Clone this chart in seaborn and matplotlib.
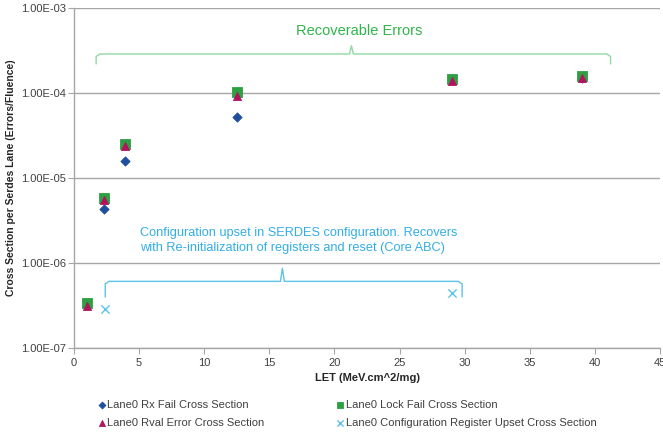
import numpy as np
import pandas as pd
import matplotlib
matplotlib.use("Agg")
import matplotlib.pyplot as plt
import seaborn as sns
from matplotlib.ticker import FixedLocator, FuncFormatter, NullLocator

# values
let_main = [1.0, 2.3, 3.9, 12.5, 29.0, 39.0]
rx_let = [2.3, 3.9, 12.5, 29.0, 39.0]
rx_fail = [4.3e-6, 1.6e-5, 5.2e-5, 1.45e-4, 1.5e-4]
lock_fail = [3.4e-7, 5.8e-6, 2.55e-5, 1.02e-4, 1.46e-4, 1.57e-4]
rval_err = [3.1e-7, 5.5e-6, 2.4e-5, 9.3e-5, 1.4e-4, 1.5e-4]
cfg_let = [2.4, 29.0]
cfg_upset = [2.9e-7, 4.4e-7]

y_ticks = [1e-7, 1e-6, 1e-5, 1e-4, 1e-3]
x_ticks = [0, 5, 10, 15, 20, 25, 30, 35, 40, 45]

sns.set_style("white")
plt.rcParams['font.family'] = ['Liberation Sans', 'DejaVu Sans']

fig = plt.figure(figsize=(6.63, 4.33), dpi=100)
ax = fig.add_axes([0.1116, 0.196, 0.884, 0.7855])

series = [
    ("Lane0 Rx Fail Cross Section", rx_let, rx_fail, "D", "#1f4e9e", 22),
    ("Lane0 Lock Fail Cross Section", let_main, lock_fail, "s", "#2ea043", 42),
    ("Lane0 Rval Error Cross Section", let_main, rval_err, "^", "#b3135e", 34),
]
for name, xs, ys, mk, col, sz in series:
    df = pd.DataFrame({"LET": xs, "CS": ys})
    sns.scatterplot(data=df, x="LET", y="CS", ax=ax, marker=mk, color=col,
                    s=sz, edgecolor=col, linewidth=0.6, label=name, zorder=3)

df_cfg = pd.DataFrame({"LET": cfg_let, "CS": cfg_upset})
sns.scatterplot(data=df_cfg, x="LET", y="CS", ax=ax, marker="x",
                color="#5ec3ea", s=36, linewidth=1.0,
                label="Lane0 Configuration Register Upset Cross Section", zorder=3)

ax.set_yscale("log")
ax.set_ylim(1e-7, 1e-3)
ax.set_xlim(0, 45)
ax.yaxis.set_major_locator(FixedLocator(y_ticks))
ax.yaxis.set_minor_locator(NullLocator())
ax.yaxis.set_major_formatter(FuncFormatter(lambda v, p: f"{v:.2E}"))
ax.xaxis.set_major_locator(FixedLocator(x_ticks))
ax.set_xticklabels([str(t) for t in x_ticks])
ax.grid(axis="y", color="#a6a6a6", linewidth=1.0)
ax.grid(axis="x", visible=False)
for s in ["top", "right"]:
    ax.spines[s].set_visible(False)
for s in ["left", "bottom"]:
    ax.spines[s].set_color("#a6a6a6")
    ax.spines[s].set_linewidth(1.0)
ax.tick_params(axis="x", bottom=True, length=4, color="#a6a6a6", labelsize=8,
               labelcolor="#404040", pad=3)
ax.tick_params(axis="y", left=True, length=4, color="#a6a6a6", labelsize=8,
               labelcolor="#404040", pad=2)
ax.set_xlabel("LET (MeV.cm^2/mg)", fontsize=8, fontweight="bold", color="#262626", labelpad=4)
ax.set_ylabel("Cross Section per Serdes Lane (Errors/Fluence)", fontsize=7.5,
              fontweight="bold", color="#262626", labelpad=3)


def brace(ax, x0, x1, xm, y_base, y_end, y_tip, color):
    # curly bracket in data coords (log y)
    r = 0.3
    t = 0.15
    lb = np.log10(y_base)
    le = np.log10(y_end)
    lt = np.log10(y_tip)
    d = 0.03 * np.sign(lb - le)
    xs = [x0, x0, x0 + r, xm - t, xm, xm + t, x1 - r, x1, x1]
    ys = [le, lb - d, lb, lb, lt, lb, lb, lb - d, le]
    ax.plot(xs, [10 ** v for v in ys], color=color, linewidth=1.0, zorder=2,
            solid_joinstyle="round")


brace(ax, 1.7, 41.2, 21.3, 2.88e-4, 2.2e-4, 3.6e-4, "#8fd9a4")
ax.text(21.9, 5.4e-4, "Recoverable Errors", color="#2fb54a", fontsize=10.5,
        ha="center", va="center")

brace(ax, 2.4, 29.8, 16.0, 6.1e-7, 4.0e-7, 8.7e-7, "#5ec3ea")
ax.text(5.1, 1.84e-6, "Configuration upset in SERDES configuration. Recovers\n"
        "with Re-initialization of registers and reset (Core ABC)",
        color="#32aee6", fontsize=9.2, ha="left", va="center", linespacing=1.3)

handles, labels = ax.get_legend_handles_labels()
# legend is filled column by column, so put the rows in order
order = [0, 2, 1, 3]
leg = fig.legend([handles[i] for i in order], [labels[i] for i in order],
                 loc="lower left", bbox_to_anchor=(0.13, -0.012), ncol=2,
                 frameon=False, fontsize=8, handletextpad=0.0,
                 columnspacing=6.3, labelspacing=0.75, markerscale=0.75,
                 handlelength=1.0)
for t in leg.get_texts():
    t.set_color("#404040")
if ax.get_legend():
    ax.get_legend().remove()

fig.savefig("out.png", dpi=100)
